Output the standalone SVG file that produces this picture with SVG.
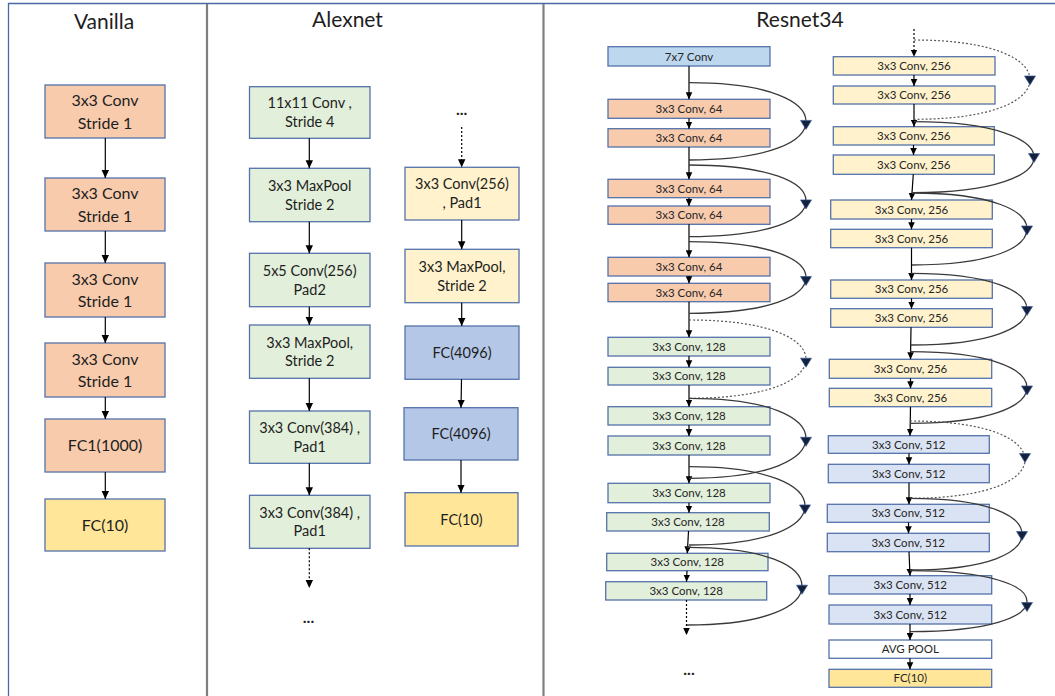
<svg xmlns="http://www.w3.org/2000/svg" xmlns:xlink="http://www.w3.org/1999/xlink" width="1055" height="696" viewBox="0 0 1055 696">
  <style>
    text { font-family: Lato, "Open Sans", "Liberation Sans", sans-serif; fill: #1e1e1e; text-anchor: middle; }
    .title { font-size: 21px; }
    .van { font-size: 16px; }
    .alx { font-size: 14.5px; }
    .res { font-size: 11.5px; fill: #262626; }
    .dots { font-size: 16px; font-weight: bold; }
    .box { stroke: #5572aa; stroke-width: 1.3; }
    .salmon { fill: #f8cbad; }
    .green { fill: #e2efda; }
    .cream { fill: #fff2cc; }
    .gold { fill: #ffe699; }
    .fc { fill: #b4c7e7; }
    .sky { fill: #bdd7ee; }
    .lav { fill: #dae3f3; }
    .white { fill: #ffffff; }
    .flow { stroke: #000; stroke-width: 1.2; fill: none; marker-end: url(#ah); }
    .flows { stroke: #000; stroke-width: 1.2; fill: none; marker-end: url(#ahs); }
    .dash { stroke-dasharray: 2 2; }
    .skip { stroke: #3a3a3a; stroke-width: 1.3; fill: none; }
    .skipd { stroke: #555; stroke-width: 1.2; fill: none; stroke-dasharray: 2 2; }
    .frame { stroke: #4a6aa5; stroke-width: 1.3; fill: none; }
    .divider { stroke: #7f7f7f; stroke-width: 2.2; fill: none; }
  </style>
  <defs>
    <marker id="ah" viewBox="0 0 8 8" refX="8" refY="4" markerWidth="8" markerHeight="8" markerUnits="userSpaceOnUse" orient="auto">
      <path d="M0,0.3 L8,4 L0,7.7 z" fill="#000"/>
    </marker>
    <marker id="ahs" viewBox="0 0 7 7" refX="7" refY="3.5" markerWidth="7" markerHeight="7" markerUnits="userSpaceOnUse" orient="auto">
      <path d="M0,0.2 L7,3.5 L0,6.8 z" fill="#000"/>
    </marker>
    <path id="skiphead" d="M-5.5,-1 L5.5,-1 L0,8 z" fill="#14213d" stroke="#3b5a96" stroke-width="0.7"/>
  </defs>

  <rect width="1055" height="696" fill="#ffffff"/>

  <!-- panel frame and dividers -->
  <g id="frame">
    <line class="frame" x1="8" y1="3.5" x2="1055" y2="3.5"/>
    <line class="frame" x1="8.5" y1="3" x2="8.5" y2="696"/>
    <line class="divider" x1="207" y1="4" x2="207" y2="696"/>
    <line class="divider" x1="543.5" y1="4" x2="543.5" y2="696"/>
  </g>

  <g id="titles">
    <text class="title" x="104" y="29">Vanilla</text>
    <text class="title" x="347.5" y="27">Alexnet</text>
    <text class="title" x="800" y="27">Resnet34</text>
  </g>

  <!-- ===== Vanilla ===== -->
  <g id="van1"><rect class="box salmon" x="45" y="85" width="120" height="53"/><text class="van" x="105" y="106">3x3 Conv</text><text class="van" x="105" y="128.6">Stride 1</text></g>
  <g id="van2"><rect class="box salmon" x="45" y="178" width="120" height="53"/><text class="van" x="105" y="199">3x3 Conv</text><text class="van" x="105" y="221.6">Stride 1</text></g>
  <g id="van3"><rect class="box salmon" x="45" y="263" width="120" height="54"/><text class="van" x="105" y="284.5">3x3 Conv</text><text class="van" x="105" y="307.1">Stride 1</text></g>
  <g id="van4"><rect class="box salmon" x="45" y="343" width="120" height="54"/><text class="van" x="105" y="364.5">3x3 Conv</text><text class="van" x="105" y="387.1">Stride 1</text></g>
  <g id="van5"><rect class="box salmon" x="45" y="419" width="120" height="53"/><text class="van" x="105" y="451.3">FC1(1000)</text></g>
  <g id="van6"><rect class="box gold" x="45" y="499" width="120" height="52"/><text class="van" x="105" y="530.8">FC(10)</text></g>

  <!-- ===== Alexnet ===== -->
  <g id="alx1"><rect class="box green" x="249.5" y="86.7" width="120.5" height="51.6"/><text class="alx" x="309.7" y="108.4">11x11 Conv ,</text><text class="alx" x="309.7" y="127">Stride 4</text></g>
  <g id="alx2"><rect class="box green" x="249.5" y="168.3" width="120.5" height="53.4"/><text class="alx" x="309.7" y="190.9">3x3 MaxPool</text><text class="alx" x="309.7" y="209.5">Stride 2</text></g>
  <g id="alx3"><rect class="box green" x="249.5" y="253.3" width="120.5" height="53.4"/><text class="alx" x="309.7" y="275.9">5x5 Conv(256)</text><text class="alx" x="309.7" y="294.5">Pad2</text></g>
  <g id="alx4"><rect class="box green" x="249.5" y="325" width="120.5" height="53.3"/><text class="alx" x="309.7" y="347.5">3x3 MaxPool,</text><text class="alx" x="309.7" y="366.1">Stride 2</text></g>
  <g id="alx5"><rect class="box green" x="249.5" y="411" width="120.5" height="52.3"/><text class="alx" x="309.7" y="433">3x3 Conv(384) ,</text><text class="alx" x="309.7" y="451.6">Pad1</text></g>
  <g id="alx6"><rect class="box green" x="249.5" y="495.3" width="120.5" height="53"/><text class="alx" x="309.7" y="517.6">3x3 Conv(384) ,</text><text class="alx" x="309.7" y="536.2">Pad1</text></g>
  <g id="alx-more-left"><text class="dots" x="308.5" y="623">...</text></g>

  <g id="alx-more-right"><text class="dots" x="461.7" y="114.5">...</text></g>
  <g id="alx7"><rect class="box cream" x="405" y="167.3" width="114" height="52.7"/><text class="alx" x="462" y="189">3x3 Conv(256)</text><text class="alx" x="462" y="207.6">, Pad1</text></g>
  <g id="alx8"><rect class="box cream" x="405" y="249.3" width="114" height="53.4"/><text class="alx" x="462" y="271.6">3x3 MaxPool,</text><text class="alx" x="462" y="290.8">Stride 2</text></g>
  <g id="alx9"><rect class="box fc" x="405" y="326" width="114" height="53.3"/><text class="alx" x="462" y="357.9">FC(4096)</text></g>
  <g id="alx10"><rect class="box fc" x="404" y="407.7" width="114" height="52.3"/><text class="alx" x="461" y="439.1">FC(4096)</text></g>
  <g id="alx11"><rect class="box gold" x="405" y="492.7" width="113" height="53.3"/><text class="alx" x="461.5" y="524.6">FC(10)</text></g>

  <!-- ===== Resnet34, left column ===== -->
  <g id="r-conv7"><rect class="box sky" x="608" y="46.7" width="162" height="19.3"/><text class="res" x="689" y="60.5">7x7 Conv</text></g>
  <g id="r64a"><rect class="box salmon" x="608" y="99.3" width="162" height="19"/><text class="res" x="689" y="112.9">3x3 Conv, 64</text></g>
  <g id="r64b"><rect class="box salmon" x="608" y="128.7" width="162" height="18.3"/><text class="res" x="689" y="141.9">3x3 Conv, 64</text></g>
  <g id="r64c"><rect class="box salmon" x="608" y="179.3" width="162" height="18.4"/><text class="res" x="689" y="192.6">3x3 Conv, 64</text></g>
  <g id="r64d"><rect class="box salmon" x="608" y="206" width="162" height="18.3"/><text class="res" x="689" y="219.2">3x3 Conv, 64</text></g>
  <g id="r64e"><rect class="box salmon" x="608" y="257.3" width="162" height="18.7"/><text class="res" x="689" y="270.7">3x3 Conv, 64</text></g>
  <g id="r64f"><rect class="box salmon" x="608" y="283.3" width="162" height="18.4"/><text class="res" x="689" y="296.6">3x3 Conv, 64</text></g>
  <g id="r128a"><rect class="box green" x="608" y="337.3" width="162" height="18.7"/><text class="res" x="689" y="350.7">3x3 Conv, 128</text></g>
  <g id="r128b"><rect class="box green" x="608" y="367.3" width="162" height="17.7"/><text class="res" x="689" y="380.2">3x3 Conv, 128</text></g>
  <g id="r128c"><rect class="box green" x="608" y="406.7" width="162" height="18.3"/><text class="res" x="689" y="419.9">3x3 Conv, 128</text></g>
  <g id="r128d"><rect class="box green" x="608" y="436" width="162" height="19"/><text class="res" x="689" y="449.6">3x3 Conv, 128</text></g>
  <g id="r128e"><rect class="box green" x="608" y="483.3" width="162" height="19.4"/><text class="res" x="689" y="497.1">3x3 Conv, 128</text></g>
  <g id="r128f"><rect class="box green" x="606.7" y="512.7" width="162.6" height="18.3"/><text class="res" x="688" y="525.9">3x3 Conv, 128</text></g>
  <g id="r128g"><rect class="box green" x="606.7" y="553.3" width="161.3" height="17.4"/><text class="res" x="687.3" y="566.1">3x3 Conv, 128</text></g>
  <g id="r128h"><rect class="box green" x="605.7" y="581.7" width="161" height="18.3"/><text class="res" x="686.2" y="594.9">3x3 Conv, 128</text></g>
  <g id="r-more"><text class="dots" x="689" y="674.5">...</text></g>

  <!-- ===== Resnet34, right column ===== -->
  <g id="r256a"><rect class="box cream" x="833.3" y="56.7" width="161.7" height="18.3"/><text class="res" x="914" y="69.9">3x3 Conv, 256</text></g>
  <g id="r256b"><rect class="box cream" x="833.3" y="86" width="161.7" height="18"/><text class="res" x="914" y="99.1">3x3 Conv, 256</text></g>
  <g id="r256c"><rect class="box cream" x="833.3" y="126.7" width="161" height="18.3"/><text class="res" x="913.8" y="139.9">3x3 Conv, 256</text></g>
  <g id="r256d"><rect class="box cream" x="833.3" y="155" width="161" height="19.3"/><text class="res" x="913.8" y="168.7">3x3 Conv, 256</text></g>
  <g id="r256e"><rect class="box cream" x="830.7" y="200" width="161.6" height="19"/><text class="res" x="911.5" y="213.6">3x3 Conv, 256</text></g>
  <g id="r256f"><rect class="box cream" x="830.7" y="229.3" width="161.6" height="18.4"/><text class="res" x="911.5" y="242.6">3x3 Conv, 256</text></g>
  <g id="r256g"><rect class="box cream" x="830.7" y="280" width="161.6" height="18.3"/><text class="res" x="911.5" y="293.2">3x3 Conv, 256</text></g>
  <g id="r256h"><rect class="box cream" x="830.7" y="308.7" width="161.6" height="18.6"/><text class="res" x="911.5" y="322.1">3x3 Conv, 256</text></g>
  <g id="r256i"><rect class="box cream" x="829.3" y="359.3" width="162.4" height="19"/><text class="res" x="910.5" y="372.9">3x3 Conv, 256</text></g>
  <g id="r256j"><rect class="box cream" x="829.3" y="388.3" width="162.4" height="18.4"/><text class="res" x="910.5" y="401.6">3x3 Conv, 256</text></g>
  <g id="r512a"><rect class="box lav" x="828.3" y="435.7" width="161" height="17.6"/><text class="res" x="908.8" y="448.6">3x3 Conv, 512</text></g>
  <g id="r512b"><rect class="box lav" x="828.3" y="464.3" width="161" height="18.4"/><text class="res" x="908.8" y="477.6">3x3 Conv, 512</text></g>
  <g id="r512c"><rect class="box lav" x="827.3" y="504.3" width="162" height="18"/><text class="res" x="908.3" y="517.4">3x3 Conv, 512</text></g>
  <g id="r512d"><rect class="box lav" x="827.3" y="533.3" width="162" height="18.4"/><text class="res" x="908.3" y="546.6">3x3 Conv, 512</text></g>
  <g id="r512e"><rect class="box lav" x="829" y="575.7" width="162.7" height="18.3"/><text class="res" x="910.3" y="588.9">3x3 Conv, 512</text></g>
  <g id="r512f"><rect class="box lav" x="829" y="605" width="162.7" height="19"/><text class="res" x="910.3" y="618.6">3x3 Conv, 512</text></g>
  <g id="r-avgpool"><rect class="box white" x="829" y="640" width="162.7" height="18.3"/><text class="res" x="910.3" y="653.2">AVG POOL</text></g>
  <g id="r-fc10"><rect class="box gold" x="829" y="669.3" width="162.7" height="18"/><text class="res" x="910.3" y="682.4">FC(10)</text></g>

  <!-- ===== Connectors ===== -->
  <g id="connectors">
    <!-- Vanilla -->
    <line class="flow" x1="105.3" y1="138" x2="105.3" y2="178"/>
    <line class="flow" x1="105.3" y1="231" x2="105.3" y2="263"/>
    <line class="flow" x1="105.3" y1="317" x2="105.3" y2="343"/>
    <line class="flow" x1="105.3" y1="397" x2="105.3" y2="419"/>
    <line class="flow" x1="105.3" y1="472" x2="105.3" y2="499"/>

    <!-- Alexnet -->
    <line class="flow" x1="309.3" y1="138.3" x2="309.3" y2="168.3"/>
    <line class="flow" x1="309.3" y1="221.7" x2="309.3" y2="253.3"/>
    <line class="flow" x1="309.3" y1="306.7" x2="309.3" y2="325"/>
    <line class="flow" x1="309.3" y1="378.3" x2="309.3" y2="411"/>
    <line class="flow" x1="309.3" y1="463.3" x2="309.3" y2="495.3"/>
    <line class="flow dash" x1="309.3" y1="548.3" x2="309.3" y2="588"/>
    <line class="flow dash" x1="461.7" y1="127" x2="461.7" y2="167.3"/>
    <line class="flow" x1="461.7" y1="220" x2="461.7" y2="249.3"/>
    <line class="flow" x1="461.7" y1="302.7" x2="461.7" y2="326"/>
    <line class="flow" x1="461.5" y1="379.3" x2="461" y2="407.7"/>
    <line class="flow" x1="461" y1="460" x2="461" y2="492.7"/>

    <!-- Resnet34 main path, left column -->
    <line class="flows" x1="689" y1="66" x2="689" y2="99.3"/>
    <line class="flows" x1="689" y1="118.3" x2="689" y2="128.7"/>
    <line class="flows" x1="689" y1="147" x2="689" y2="179.3"/>
    <line class="flows" x1="689" y1="197.7" x2="689" y2="206"/>
    <line class="flows" x1="689" y1="224.3" x2="689" y2="257.3"/>
    <line class="flows" x1="689" y1="276" x2="689" y2="283.3"/>
    <line class="flows" x1="689" y1="301.7" x2="689" y2="337.3"/>
    <line class="flows" x1="689" y1="356" x2="689" y2="367.3"/>
    <line class="flows" x1="689" y1="385" x2="689" y2="406.7"/>
    <line class="flows" x1="689" y1="425" x2="689" y2="436"/>
    <line class="flows" x1="689" y1="455" x2="689" y2="483.3"/>
    <line class="flows" x1="689" y1="502.7" x2="689" y2="512.7"/>
    <line class="flows" x1="688.5" y1="531" x2="687.3" y2="553.3"/>
    <line class="flows" x1="687" y1="570.7" x2="686.5" y2="581.7"/>
    <line class="flows dash" x1="686.5" y1="600" x2="686.5" y2="635"/>

    <!-- Resnet34 main path, right column -->
    <line class="flows dash" x1="914" y1="29" x2="914" y2="56.7"/>
    <line class="flows" x1="914" y1="75" x2="914" y2="86"/>
    <line class="flows" x1="914" y1="104" x2="914" y2="126.7"/>
    <line class="flows" x1="913.5" y1="145" x2="913.5" y2="155"/>
    <line class="flows" x1="913.3" y1="174.3" x2="911.5" y2="200"/>
    <line class="flows" x1="911.5" y1="219" x2="911.5" y2="229.3"/>
    <line class="flows" x1="911.5" y1="247.7" x2="911.5" y2="280"/>
    <line class="flows" x1="911.5" y1="298.3" x2="911.5" y2="308.7"/>
    <line class="flows" x1="911" y1="327.3" x2="910.5" y2="359.3"/>
    <line class="flows" x1="910.5" y1="378.3" x2="910.5" y2="388.3"/>
    <line class="flows" x1="910.5" y1="406.7" x2="910" y2="435.7"/>
    <line class="flows" x1="909" y1="453.3" x2="909" y2="464.3"/>
    <line class="flows" x1="909" y1="482.7" x2="909" y2="504.3"/>
    <line class="flows" x1="908.5" y1="522.3" x2="908.5" y2="533.3"/>
    <line class="flows" x1="909" y1="551.7" x2="910" y2="575.7"/>
    <line class="flows" x1="910" y1="594" x2="910" y2="605"/>
    <line class="flows" x1="910" y1="624" x2="910" y2="640"/>
    <line class="flows" x1="910" y1="658.3" x2="910" y2="669.3"/>

    <!-- shortcut connections, left column -->
    <path class="skip" d="M689,82.7 C771,82.7 806,102 806,121.4 C806,140.7 771,160 689,160"/>
    <path class="skip" d="M689,165 C771,165 806,183 806,200.9 C806,218.8 771,236.7 689,236.7"/>
    <path class="skip" d="M689,241.7 C771,241.7 806,259.6 806,277.5 C806,295.4 771,313.3 689,313.3"/>
    <path class="skipd" d="M689,320 C771,320 806,339.6 806,359.2 C806,378.8 771,398.3 689,398.3"/>
    <path class="skip" d="M689,398.3 C771,398.3 806,418.3 806,438.3 C806,458.3 771,478.3 689,478.3"/>
    <path class="skip" d="M689,466.7 C770,466.7 805,486.3 805,505.9 C805,525.5 770,545 689,545"/>
    <path class="skip" d="M687,547.3 C767.5,547.3 802,566.8 802,586.2 C802,605.6 767.5,625 687,625"/>

    <!-- shortcut connections, right column -->
    <path class="skipd" d="M914,40 C995,40 1030,59.9 1030,79.7 C1030,99.5 995,119.3 914,119.3"/>
    <path class="skip" d="M914,121.7 C995,121.7 1034,139.5 1034,157.2 C1034,175 995,192.7 913,192.7"/>
    <path class="skip" d="M912,193 C993,193 1027,211 1027,229 C1027,247 993,265 912,265"/>
    <path class="skip" d="M911,273.3 C992,273.3 1027,291.3 1027,309.2 C1027,327 992,345 911,345"/>
    <path class="skip" d="M910,351.7 C991,351.7 1027,369.6 1027,387.5 C1027,405.4 991,423.3 910,423.3"/>
    <path class="skipd" d="M910,421 C991,421 1025,440.4 1025,459.7 C1025,479 991,498.3 910,498.3"/>
    <path class="skip" d="M910,498.3 C990,498.3 1022,516.3 1022,534.2 C1022,552.1 990,570 910,570"/>
    <path class="skip" d="M910,570.7 C991,570.7 1027,586 1027,601.2 C1027,616.5 991,631.7 910,631.7"/>

    <!-- shortcut arrowheads -->
    <use xlink:href="#skiphead" x="806" y="121.4"/>
    <use xlink:href="#skiphead" x="806" y="200.9"/>
    <use xlink:href="#skiphead" x="806" y="277.5"/>
    <use xlink:href="#skiphead" x="806" y="359.2"/>
    <use xlink:href="#skiphead" x="806" y="438.3"/>
    <use xlink:href="#skiphead" x="805" y="505.9"/>
    <use xlink:href="#skiphead" x="802" y="586.2"/>
    <use xlink:href="#skiphead" x="1030" y="77"/>
    <use xlink:href="#skiphead" x="1034" y="154.5"/>
    <use xlink:href="#skiphead" x="1027" y="227"/>
    <use xlink:href="#skiphead" x="1027" y="307.5"/>
    <use xlink:href="#skiphead" x="1027" y="387"/>
    <use xlink:href="#skiphead" x="1025" y="454.5"/>
    <use xlink:href="#skiphead" x="1022" y="532.5"/>
    <use xlink:href="#skiphead" x="1027" y="603.5"/>
  </g>
</svg>
